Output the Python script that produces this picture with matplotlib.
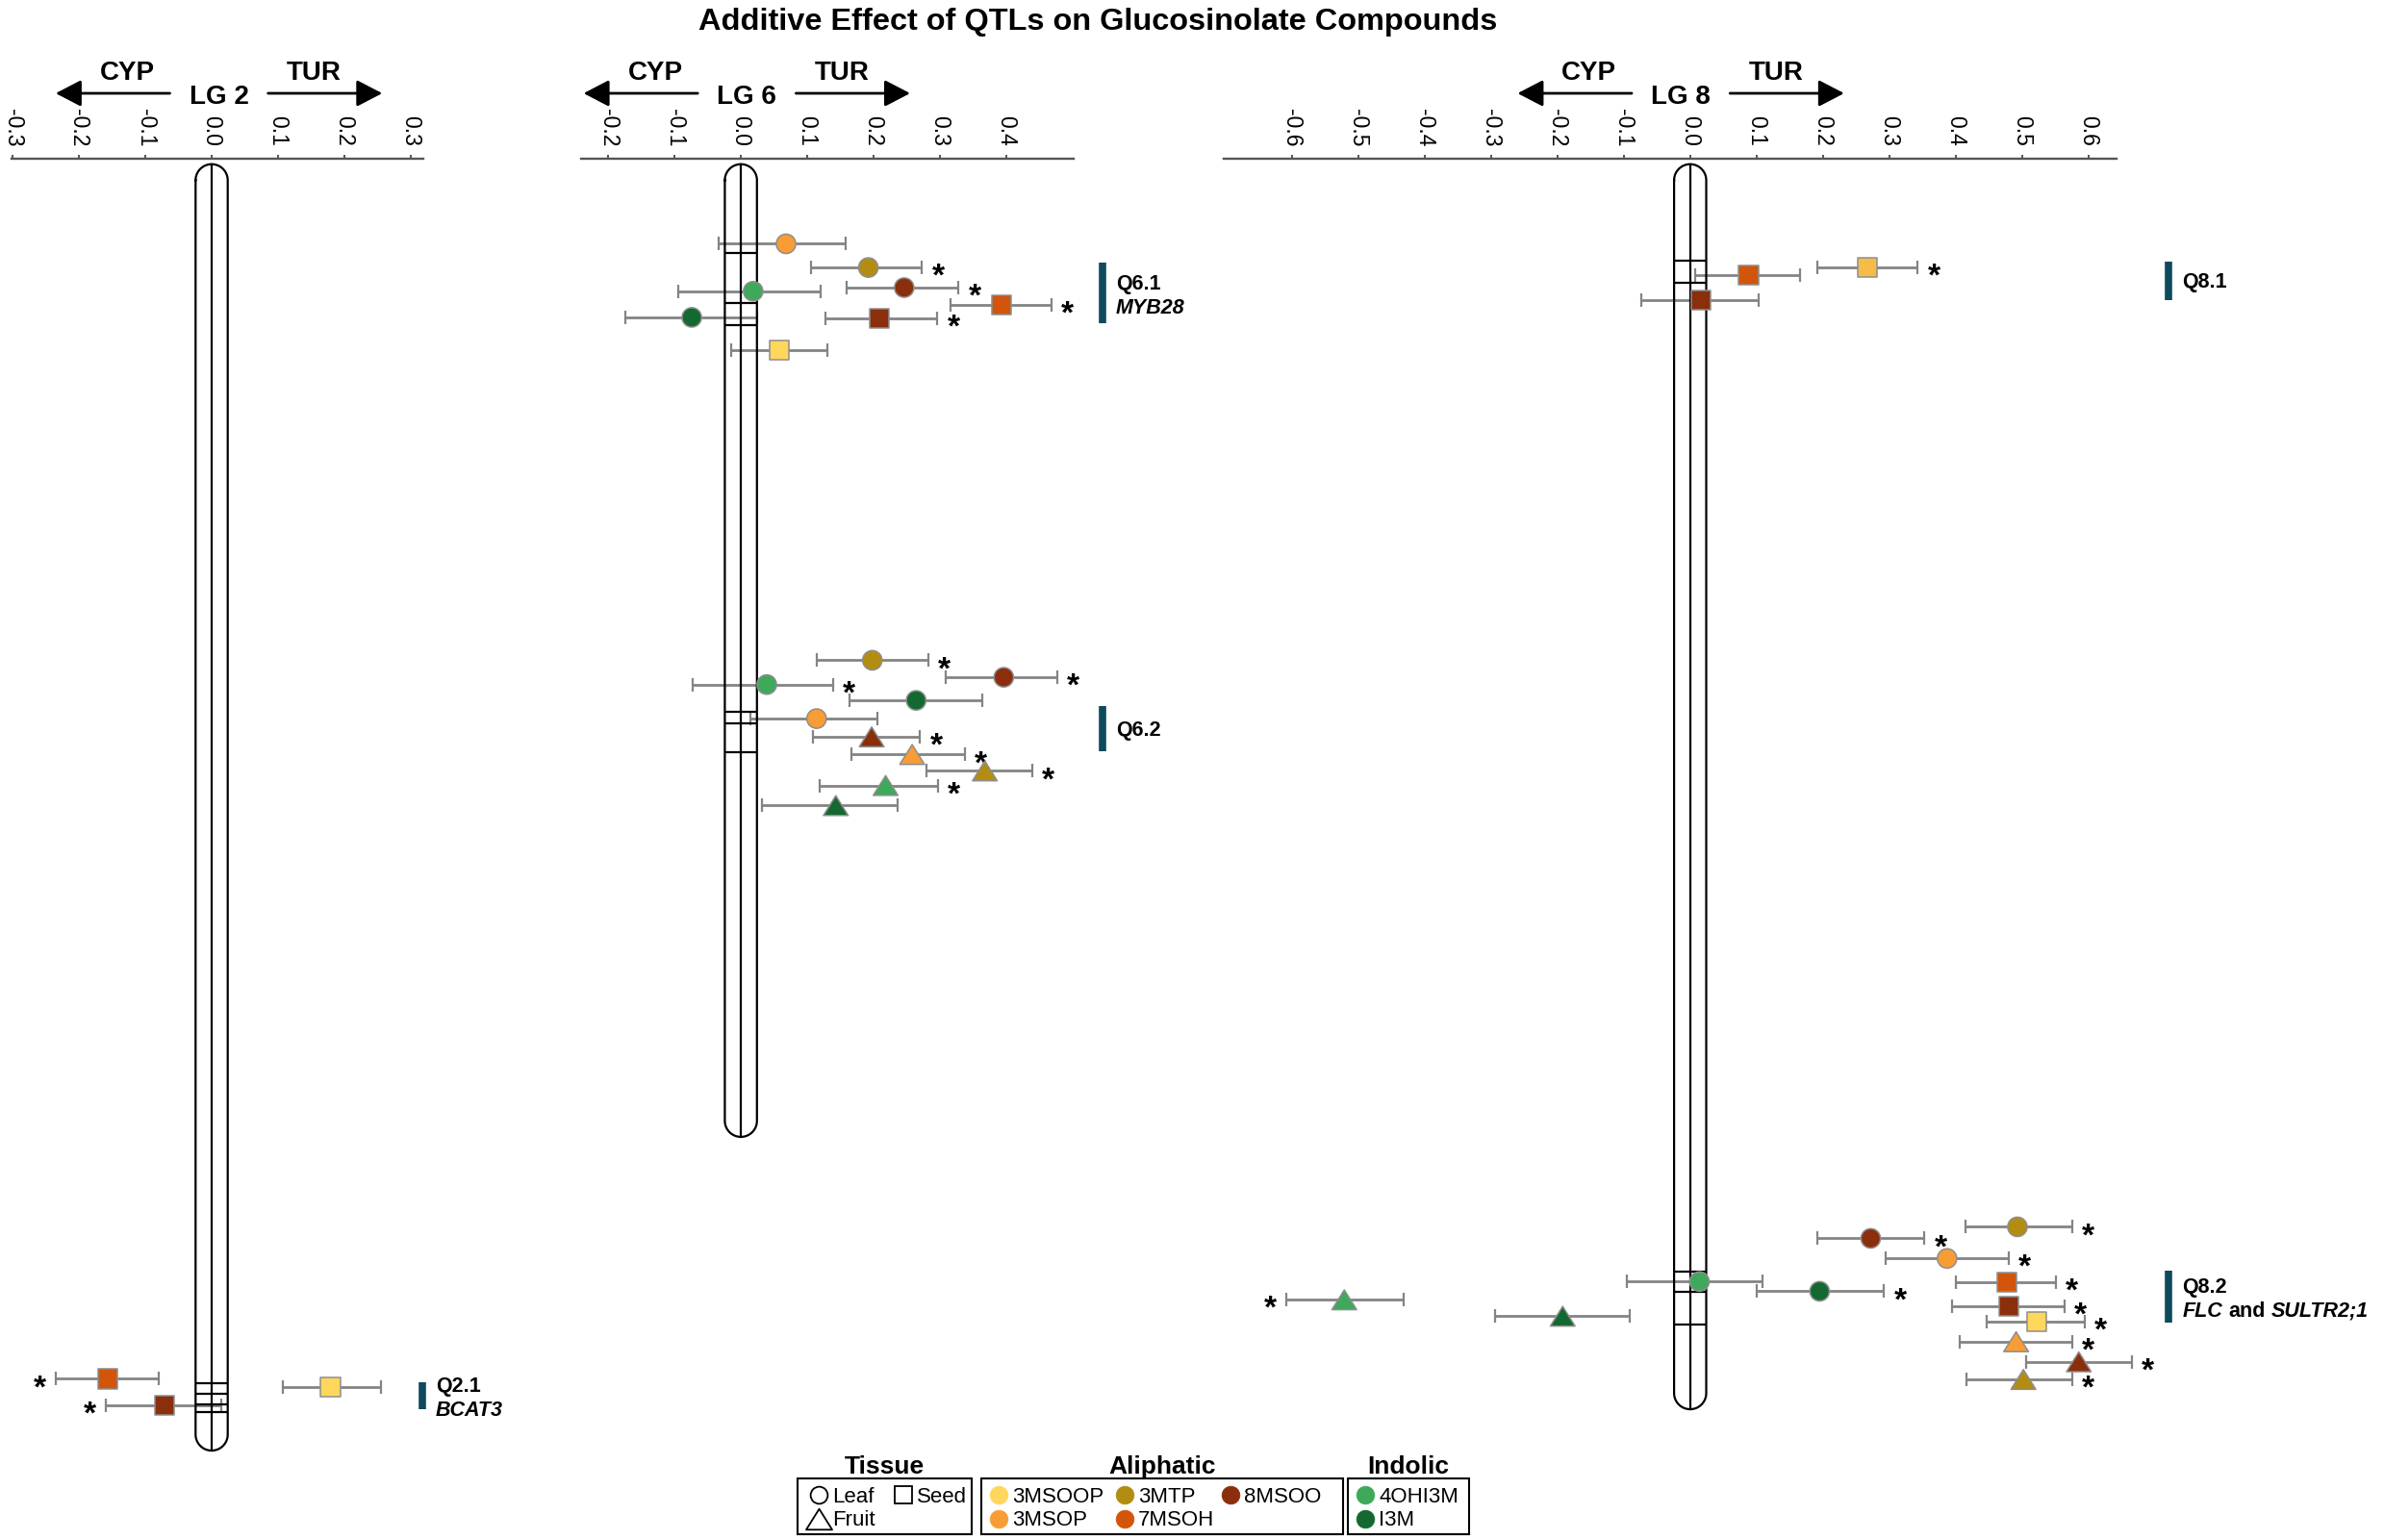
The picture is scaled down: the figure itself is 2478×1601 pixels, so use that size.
import numpy as np
import matplotlib
matplotlib.use("Agg")
import matplotlib.pyplot as plt
from matplotlib import transforms
from matplotlib.path import Path
from matplotlib.patches import Rectangle, ArrowStyle

plt.rcParams["font.family"] = ["Liberation Sans", "DejaVu Sans"]
plt.rcParams["axes.unicode_minus"] = False

# ---------------- data ----------------
ALIPHATIC = ["3MSOOP", "3MSOP", "3MTP", "7MSOH", "8MSOO"]
INDOLIC = ["4OHI3M", "I3M"]
COLORS = {"3MSOOP": "#FFD75C", "3MSOP": "#F89C35", "3MTP": "#B38D12",
          "7MSOH": "#D2550B", "8MSOO": "#8A2E0C", "4OHI3M": "#3EA95B",
          "I3M": "#13692F"}
TISSUES = ["Leaf", "Seed", "Fruit"]

LG_NAMES = ["LG 2", "LG 6", "LG 8"]
LG_LENGTH = [105.8, 80.0, 102.4]  # cM
LG_BANDS = [[100.3, 101.1, 102.0, 102.6],
            [7.3, 11.4, 13.2, 45.0, 46.0, 48.4],
            [7.9, 9.75, 91.1, 92.75, 95.4]]
LG_TICKS = [[-0.3, -0.2, -0.1, 0.0, 0.1, 0.2, 0.3],
            [-0.2, -0.1, 0.0, 0.1, 0.2, 0.3, 0.4],
            [-0.6, -0.5, -0.4, -0.3, -0.2, -0.1, 0.0, 0.1, 0.2, 0.3, 0.4, 0.5, 0.6]]

QTL_LG = [0, 1, 1, 2, 2]
QTL_NAMES = ["Q2.1", "Q6.1", "Q6.2", "Q8.1", "Q8.2"]
QTL_GENES = ["BCAT3", "MYB28", "", "", "FLC and SULTR2;1"]
QTL_START = [100.2, 8.1, 44.6, 8.0, 91.0]
QTL_END = [102.4, 13.1, 48.25, 11.15, 95.25]

# additive effects (TUR positive), CI low / high, significance
LG2_COMPOUND = ["7MSOH", "3MSOOP", "8MSOO"]
LG2_TISSUE = ["Seed", "Seed", "Seed"]
LG2_POS = [99.9, 100.6, 102.1]
LG2_EFFECT = [-0.156, 0.179, -0.071]
LG2_LOW = [-0.235, 0.107, -0.159]
LG2_HIGH = [-0.080, 0.255, 0.014]
LG2_SIG = [1, 0, 1]

LG6_COMPOUND = ["3MSOP", "3MTP", "8MSOO", "4OHI3M", "7MSOH", "I3M", "8MSOO", "3MSOOP",
                "3MTP", "8MSOO", "4OHI3M", "I3M", "3MSOP", "8MSOO", "3MSOP", "3MTP", "4OHI3M", "I3M"]
LG6_TISSUE = ["Leaf", "Leaf", "Leaf", "Leaf", "Seed", "Leaf", "Seed", "Seed",
              "Leaf", "Leaf", "Leaf", "Leaf", "Leaf", "Fruit", "Fruit", "Fruit", "Fruit", "Fruit"]
LG6_POS = [6.55, 8.5, 10.15, 10.45, 11.55, 12.6, 12.7, 15.3,
           40.8, 42.2, 42.8, 44.1, 45.6, 47.1, 48.55, 49.9, 51.1, 52.75]
LG6_EFFECT = [0.068, 0.192, 0.246, 0.0185, 0.392, -0.074, 0.209, 0.0575,
              0.198, 0.396, 0.039, 0.264, 0.114, 0.197, 0.258, 0.3675, 0.218, 0.143]
LG6_LOW = [-0.033, 0.106, 0.159, -0.0945, 0.316, -0.174, 0.127, -0.015,
           0.114, 0.309, -0.072, 0.164, 0.014, 0.108, 0.166, 0.280, 0.119, 0.032]
LG6_HIGH = [0.158, 0.273, 0.328, 0.120, 0.468, 0.024, 0.296, 0.131,
            0.282, 0.477, 0.139, 0.363, 0.205, 0.270, 0.337, 0.439, 0.297, 0.236]
LG6_SIG = [0, 1, 1, 0, 1, 0, 1, 0,
           1, 1, 1, 0, 0, 1, 1, 1, 1, 0]

LG8_COMPOUND = ["3MSOOP", "7MSOH", "8MSOO",
                "3MTP", "8MSOO", "3MSOP", "4OHI3M", "7MSOH", "I3M", "4OHI3M", "8MSOO",
                "I3M", "3MSOOP", "3MSOP", "8MSOO", "3MTP"]
LG8_TISSUE = ["Seed", "Seed", "Seed",
              "Leaf", "Leaf", "Leaf", "Leaf", "Seed", "Leaf", "Fruit", "Seed",
              "Fruit", "Seed", "Fruit", "Fruit", "Fruit"]
LG8_POS = [8.46, 9.125, 11.16,
           87.4, 88.35, 90.0, 91.9, 91.95, 92.7, 93.4, 93.95, 94.75, 95.2, 96.85, 98.5, 99.95]
LG8_EFFECT = [0.267, 0.088, 0.016,
              0.493, 0.272, 0.387, 0.014, 0.477, 0.195, -0.521, 0.480, -0.192, 0.522, 0.491, 0.5855, 0.502]
LG8_LOW = [0.191, 0.008, -0.074,
           0.4145, 0.191, 0.2945, -0.095, 0.400, 0.100, -0.608, 0.395, -0.294, 0.447, 0.406, 0.506, 0.4165]
LG8_HIGH = [0.343, 0.166, 0.103,
            0.575, 0.353, 0.480, 0.109, 0.551, 0.292, -0.432, 0.5635, -0.0915, 0.5945, 0.575, 0.665, 0.575]
LG8_SIG = [1, 0, 0,
           1, 1, 1, 0, 1, 1, 1, 1, 0, 1, 1, 1, 1]

POINTS = [(LG2_COMPOUND, LG2_TISSUE, LG2_POS, LG2_EFFECT, LG2_LOW, LG2_HIGH, LG2_SIG),
          (LG6_COMPOUND, LG6_TISSUE, LG6_POS, LG6_EFFECT, LG6_LOW, LG6_HIGH, LG6_SIG),
          (LG8_COMPOUND, LG8_TISSUE, LG8_POS, LG8_EFFECT, LG8_LOW, LG8_HIGH, LG8_SIG)]
COLOR_OVERRIDE = {(2, 0): "#F7BC48"}  # Q8.1 seed square is a lighter shade

# ---------------- layout ----------------
DPI = 100
FIG_W, FIG_H = 2478, 1601
PX_PER_UNIT = 690.0  # effect units -> pixels
PX_PER_CM = 12.64
AXIS_TOP_PX = 165.0
CHROM_TOP_PX = 170.7
AXIS_BOTTOM_PX = 1530.0
PANEL_ZERO_PX = [220.0, 770.1, 1756.8]
PANEL_XLIM = [(-0.301, 0.319), (-0.241, 0.502), (-0.703, 0.642)]
HEADER_SHIFT = [0.011, 0.009, -0.014]
QTL_X = [0.3174, 0.5448, 0.721]
CHROM_W_PX = 33.4

AXIS_COLOR = "#555555"
ERR_COLOR = "#848484"
EDGE_COLOR = "#8E8E8E"
QTL_COLOR = "#0E4A5B"
TRIANGLE = Path([(0, 0.8), (-1, -0.8), (1, -0.8), (0, 0.8)],
                [Path.MOVETO, Path.LINETO, Path.LINETO, Path.CLOSEPOLY])
MARKERS = {"Leaf": ("o", 14.5), "Seed": ("s", 14.5), "Fruit": (TRIANGLE, 18.5)}
STAR_FS = 24


def yfig(px):
    return 1 - px / FIG_H


fig = plt.figure(figsize=(FIG_W / DPI, FIG_H / DPI), dpi=DPI)
fig.text(1141 / FIG_W, yfig(31), "Additive Effect of QTLs on Glucosinolate Compounds",
         ha="center", va="baseline", fontsize=23.4, weight="bold")

ylim = ((AXIS_BOTTOM_PX - CHROM_TOP_PX) / PX_PER_CM, -(CHROM_TOP_PX - AXIS_TOP_PX) / PX_PER_CM)
axes = []
for k, name in enumerate(LG_NAMES):
    x0, x1 = PANEL_XLIM[k]
    left = PANEL_ZERO_PX[k] + x0 * PX_PER_UNIT
    ax = fig.add_axes([left / FIG_W, 1 - AXIS_BOTTOM_PX / FIG_H,
                       (x1 - x0) * PX_PER_UNIT / FIG_W, (AXIS_BOTTOM_PX - AXIS_TOP_PX) / FIG_H])
    ax.set_xlim(x0, x1)
    ax.set_ylim(*ylim)
    ax.set_facecolor("none")
    for s in ["left", "right", "bottom"]:
        ax.spines[s].set_visible(False)
    ax.spines["top"].set_color(AXIS_COLOR)
    ax.spines["top"].set_linewidth(1.7)
    ax.set_yticks([])
    ax.xaxis.set_ticks_position("top")
    ax.set_xticks(LG_TICKS[k])
    ax.set_xticklabels(["%.1f" % t for t in LG_TICKS[k]])
    ax.tick_params(axis="x", top=True, bottom=False, labeltop=True, labelbottom=False,
                   labelrotation=-90, labelsize=16.5, length=3.2, width=1.4,
                   color=AXIS_COLOR, pad=6)

    # header: CYP <-- LG --> TUR
    tr = transforms.blended_transform_factory(ax.transData, fig.transFigure)
    cx = HEADER_SHIFT[k]
    ax.text(cx - 0.138, yfig(82.7), "CYP", transform=tr, ha="center", va="baseline",
            fontsize=20, weight="bold")
    ax.text(cx + 0.1435, yfig(82.7), "TUR", transform=tr, ha="center", va="baseline",
            fontsize=20, weight="bold")
    ax.text(cx, yfig(108), name, transform=tr, ha="center", va="baseline",
            fontsize=20, weight="bold")
    style = ArrowStyle("-|>", head_length=1.0, head_width=0.52)
    for tail, tip in [(-0.074, -0.246), (0.074, 0.246)]:
        ax.annotate("", xy=(cx + tip, yfig(97)), xytext=(cx + tail, yfig(97)),
                    xycoords=tr, textcoords=tr,
                    arrowprops=dict(arrowstyle=style, lw=2, color="black",
                                    mutation_scale=16.3, shrinkA=0, shrinkB=0))

    # chromosome
    L = LG_LENGTH[k]
    hw = CHROM_W_PX / 2 / PX_PER_UNIT
    r = CHROM_W_PX / 2 / PX_PER_CM
    t_top = np.linspace(np.pi, 2 * np.pi, 60)
    t_bot = np.linspace(0, np.pi, 60)
    xs = np.concatenate([hw * np.cos(t_top), hw * np.cos(t_bot)])
    ys = np.concatenate([r + r * np.sin(t_top), L - r + r * np.sin(t_bot)])
    ax.fill(xs, ys, color="white", zorder=1)
    ax.plot(np.append(xs, xs[0]), np.append(ys, ys[0]), color="black", lw=1.6, zorder=3)
    ax.plot([0, 0], [0, L], color="black", lw=1.6, zorder=3)
    ax.hlines(LG_BANDS[k], -hw, hw, color="black", lw=1.6, zorder=3)

    # effects
    comp, tis, pos, eff, lo, hi, sig = [np.asarray(a) if i > 1 else a for i, a in enumerate(POINTS[k])]
    eb = ax.errorbar(eff, pos, xerr=[eff - lo, hi - eff], fmt="none", ecolor=ERR_COLOR,
                     elinewidth=2.0, capsize=5, capthick=1.6, zorder=2)
    for art in list(eb[1]) + list(eb[2]):
        art.set_clip_on(False)
    cols = [COLOR_OVERRIDE.get((k, i), COLORS[c]) for i, c in enumerate(comp)]
    for tissue in TISSUES:
        idx = [i for i, t in enumerate(tis) if t == tissue]
        if not idx:
            continue
        mk, ms = MARKERS[tissue]
        ax.scatter(eff[idx], pos[idx], s=ms ** 2, marker=mk, c=[cols[i] for i in idx],
                   edgecolors=EDGE_COLOR, linewidths=1.1, zorder=4, clip_on=False)
    for i in range(len(eff)):
        if sig[i]:
            side = 1 if eff[i] > 0 else -1
            ax.annotate("*", xy=(hi[i] if side > 0 else lo[i], pos[i]),
                        xytext=(12 * side, -13.5), textcoords="offset points",
                        ha="center", va="baseline", fontsize=STAR_FS, weight="bold",
                        annotation_clip=False)
    axes.append(ax)

# QTL bars and labels
for q, lg in enumerate(QTL_LG):
    ax = axes[lg]
    qx = QTL_X[lg]
    mid = (QTL_START[q] + QTL_END[q]) / 2
    ax.plot([qx, qx], [QTL_START[q], QTL_END[q]], color=QTL_COLOR, lw=5.5,
            solid_capstyle="butt", clip_on=False)
    gene = QTL_GENES[q]
    dy = 2.8 if gene else -5.5
    ax.annotate(QTL_NAMES[q], xy=(qx, mid), xytext=(10, dy), textcoords="offset points",
                ha="left", va="baseline", fontsize=15.5, weight="bold", annotation_clip=False)
    if gene:
        parts = gene.split(" and ")
        prev = ax.annotate(parts[0], xy=(qx, mid), xytext=(10, -15.2), textcoords="offset points",
                           ha="left", va="baseline", fontsize=15.5, weight="bold",
                           style="italic", annotation_clip=False)
        for p in parts[1:]:
            a = ax.annotate("and", xy=(1, 0), xycoords=prev, xytext=(4.3, 0),
                            textcoords="offset points", ha="left", va="bottom",
                            fontsize=15.5, weight="bold")
            prev = ax.annotate(p, xy=(1, 0), xycoords=a, xytext=(4.3, 0),
                               textcoords="offset points", ha="left", va="bottom",
                               fontsize=15.5, weight="bold", style="italic")

# legend boxes
lax = fig.add_axes([0, 0, 1, 1], zorder=5)
lax.set_xlim(0, FIG_W)
lax.set_ylim(FIG_H, 0)
lax.axis("off")
ROWS = [1554, 1578.7]
LEGEND = [("Tissue", 829, 181, [("Leaf", "Leaf", None, 22, 0), ("Seed", "Seed", None, 110, 0),
                                ("Fruit", "Fruit", None, 22, 1)]),
          ("Aliphatic", 1020, 376, [("3MSOOP", "Leaf", COLORS["3MSOOP"], 18.3, 0),
                                    ("3MSOP", "Leaf", COLORS["3MSOP"], 18.3, 1),
                                    ("3MTP", "Leaf", COLORS["3MTP"], 149.2, 0),
                                    ("7MSOH", "Leaf", COLORS["7MSOH"], 149.2, 1),
                                    ("8MSOO", "Leaf", COLORS["8MSOO"], 259.4, 0)]),
          ("Indolic", 1401, 126, [("4OHI3M", "Leaf", COLORS["4OHI3M"], 18.4, 0),
                                  ("I3M", "Leaf", COLORS["I3M"], 18.4, 1)])]
for title, left, width, entries in LEGEND:
    lax.add_patch(Rectangle((left, 1537), width, 58, fill=False, edgecolor="black", lw=1.5))
    lax.text(left + width / 2, 1531.7, title, ha="center", va="baseline", fontsize=19, weight="bold")
    for label, tissue, col, dx, row in entries:
        mk, ms = MARKERS[tissue]
        if col is None:
            lax.plot(left + dx, ROWS[row], marker=mk, ms=ms * (0.88 if tissue != "Fruit" else 1.05),
                     mfc="none", mec="black", mew=1.3)
        else:
            lax.plot(left + dx, ROWS[row], marker="o", ms=13.5, mfc=col, mec=col, mew=0.5)
        lax.text(left + dx + 14, ROWS[row] + 7.7, label, ha="left", va="baseline", fontsize=16)

fig.savefig("out.png", dpi=DPI)
